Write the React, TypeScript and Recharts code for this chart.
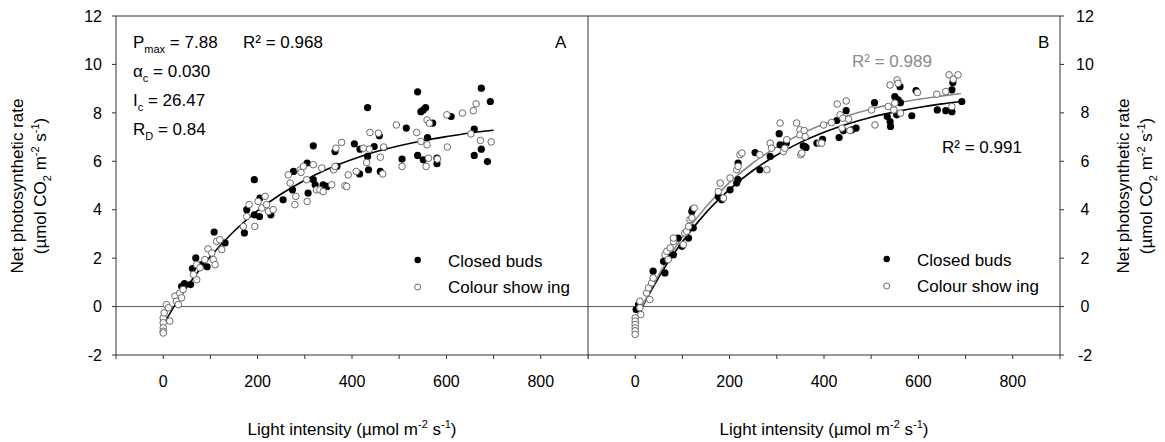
import React from 'react';
import { ComposedChart, Scatter, Line, XAxis, YAxis, ReferenceLine } from 'recharts';

// light intensity (µmol m-2 s-1) vs net photosynthetic rate
const lightTicks = [-100, 0, 100, 200, 300, 400, 500, 600, 700, 800, 900];
const lightLabels = [0, 200, 400, 600, 800];
const rateTicks = [-2, 0, 2, 4, 6, 8, 10, 12];

// panel A
const closedA: [number, number][] = [
  [39, 0.84], [45, 0.95], [58, 0.91], [62, 1.57], [69, 2.01], [81, 1.73], [93, 1.64], [108, 3.08],
  [131, 2.63], [172, 3.04], [177, 4.0], [193, 5.24], [193, 3.79], [204, 3.72], [205, 4.48], [228, 3.79],
  [254, 4.41], [274, 4.82], [276, 5.58], [305, 5.93], [307, 4.69], [318, 5.24], [322, 5.03], [318, 6.64],
  [339, 5.03], [347, 4.96], [364, 6.4], [368, 5.79], [405, 6.72], [416, 5.48], [417, 6.5], [433, 8.22],
  [433, 6.2], [435, 5.65], [447, 6.61], [458, 7.05], [460, 5.58], [467, 6.57], [506, 6.09], [515, 7.37],
  [539, 8.87], [539, 6.24], [546, 8.05], [551, 8.12], [556, 8.22], [551, 6.06], [560, 6.98], [571, 7.58],
  [580, 5.9], [580, 6.13], [610, 7.85], [659, 7.33], [659, 6.24], [674, 9.02], [674, 6.5], [687, 5.99],
  [693, 8.47],
];
const openA: [number, number][] = [
  [0, -0.47], [0, -0.67], [0, -0.88], [0, -1.02], [0, -1.09], [2, -0.26], [7, 0.08], [11, -0.05],
  [14, -0.6], [25, 0.43], [28, 0.22], [32, 0.08], [35, 0.56], [39, 0.36], [42, 0.7], [64, 1.32],
  [71, 1.11], [71, 1.73], [78, 1.6], [88, 1.94], [95, 2.38], [103, 2.21], [106, 1.94], [110, 1.73],
  [113, 2.69], [120, 2.76], [124, 2.35], [170, 3.31], [177, 3.72], [182, 4.21], [194, 3.31], [201, 4.34],
  [209, 4.07], [216, 4.55], [219, 4.21], [223, 3.93], [233, 4.0], [265, 5.44], [269, 5.1], [279, 4.21],
  [281, 4.55], [290, 5.65], [292, 5.54], [297, 5.79], [304, 5.24], [305, 4.34], [318, 5.86], [325, 4.82],
  [332, 4.82], [336, 5.72], [339, 4.75], [357, 5.03], [361, 5.65], [364, 5.79], [366, 6.54], [378, 6.78],
  [385, 4.99], [389, 4.96], [392, 5.44], [409, 5.58], [424, 6.54], [431, 5.95], [437, 6.5], [438, 7.19],
  [456, 7.16], [460, 6.17], [465, 5.48], [467, 6.59], [494, 7.5], [506, 5.79], [537, 7.19], [546, 6.82],
  [557, 5.79], [559, 7.71], [559, 6.68], [562, 6.13], [564, 7.57], [581, 6.09], [601, 7.92], [602, 6.59],
  [634, 7.99], [652, 7.13], [657, 8.09], [663, 8.37], [672, 6.86], [695, 6.8],
];
const fitA: [number, number][] = [
  [0, -0.75], [25, 0.06], [50, 0.8], [75, 1.47], [100, 2.07], [150, 3.11], [200, 3.96], [250, 4.65],
  [300, 5.22], [350, 5.69], [400, 6.07], [450, 6.39], [500, 6.64], [550, 6.85], [600, 7.02], [650, 7.17],
  [700, 7.28],
];

// panel B
const closedB: [number, number][] = [
  [2, -0.12], [7, 0.08], [38, 1.46], [60, 1.87], [63, 1.39], [72, 2.07], [81, 2.14], [91, 2.83],
  [99, 2.49], [113, 2.83], [120, 3.93], [122, 4.03], [123, 3.25], [176, 4.55], [183, 4.41], [201, 4.82],
  [215, 5.1], [218, 5.24], [218, 5.93], [254, 6.36], [264, 5.65], [286, 6.2], [305, 7.14], [307, 6.68],
  [320, 6.75], [356, 6.64], [360, 6.61], [362, 6.57], [385, 6.75], [397, 6.91], [427, 7.68], [432, 6.98],
  [441, 7.27], [447, 8.09], [459, 7.3], [468, 7.37], [507, 8.42], [534, 7.85], [540, 7.64], [541, 7.44],
  [550, 8.67], [554, 7.92], [557, 8.54], [561, 9.08], [562, 8.42], [586, 7.88], [595, 8.92], [640, 8.12],
  [658, 8.09], [671, 8.05], [671, 8.95], [673, 9.25], [692, 8.47],
];
const openB: [number, number][] = [
  [0, -0.47], [0, -0.6], [0, -0.74], [0, -0.88], [0, -1.0], [0, -1.15], [10, 0.22], [10, -0.05],
  [12, -0.33], [24, 0.56], [28, 0.77], [31, 0.29], [35, 0.98], [38, 1.18], [63, 2.14], [67, 2.28],
  [70, 1.94], [74, 2.42], [81, 2.69], [81, 2.83], [102, 2.56], [105, 3.04], [109, 3.11], [113, 3.31],
  [116, 3.59], [120, 3.66], [125, 4.07], [176, 4.75], [180, 5.1], [187, 4.48], [201, 5.31], [215, 5.65],
  [218, 5.79], [222, 6.27], [226, 6.34], [264, 6.27], [279, 5.65], [286, 6.75], [289, 6.54], [307, 7.58],
  [314, 6.4], [317, 6.54], [321, 6.89], [342, 7.58], [349, 7.3], [349, 7.09], [351, 6.27], [353, 6.34],
  [358, 7.27], [360, 7.02], [391, 6.75], [395, 6.75], [399, 7.5], [416, 7.6], [428, 8.36], [434, 7.92],
  [438, 7.37], [440, 7.78], [447, 8.49], [452, 7.74], [455, 7.27], [501, 8.12], [508, 7.5], [536, 8.26],
  [540, 9.15], [548, 8.12], [550, 8.4], [555, 9.36], [557, 9.22], [562, 7.99], [598, 8.84], [639, 8.77],
  [658, 8.88], [665, 9.57], [671, 8.26], [674, 9.39], [684, 9.57],
];
const fitClosedB: [number, number][] = [
  [0, -0.6], [25, 0.35], [50, 1.21], [75, 1.99], [100, 2.68], [150, 3.88], [200, 4.84], [250, 5.63],
  [300, 6.26], [350, 6.78], [400, 7.2], [450, 7.54], [500, 7.82], [550, 8.04], [600, 8.22], [650, 8.37],
  [690, 8.47],
];
const fitOpenB: [number, number][] = [
  [0, -0.6], [25, 0.41], [50, 1.32], [75, 2.14], [100, 2.87], [150, 4.12], [200, 5.13], [250, 5.94],
  [300, 6.59], [350, 7.12], [400, 7.54], [450, 7.88], [500, 8.16], [550, 8.38], [600, 8.56], [650, 8.7],
  [690, 8.8],
];

const FONT = '"Liberation Sans", Arial, Helvetica, sans-serif';
const AXIS = '#333';
const GREY = '#8a8a8a';

const pts = (arr: [number, number][]) => arr.map(([x, y]) => ({ x, y }));

const ClosedDot = (p: any) => <circle cx={p.cx} cy={p.cy} r={3.6} fill="#000" />;
const OpenDot = (p: any) => (
  <circle cx={p.cx} cy={p.cy} r={3.3} fill="#fff" stroke="#6a6a6a" strokeWidth={1} />
);

const XTick = (p: any) => {
  if (!lightLabels.includes(p.payload.value)) return <g />;
  return (
    <text x={p.x} y={381} textAnchor="middle" dominantBaseline="central" fontSize={16} fontFamily={FONT} fill="#000">
      {p.payload.value}
    </text>
  );
};

const RightYTick = (p: any) => (
  <text x={497} y={p.y} textAnchor="middle" dominantBaseline="central" fontSize={16} fontFamily={FONT} fill="#000">
    {p.payload.value}
  </text>
);

const Sub = ({ children }: any) => (
  <span style={{ fontSize: 11, position: 'relative', top: 5 }}>{children}</span>
);
const Sup = ({ children }: any) => (
  <span style={{ fontSize: 11, position: 'relative', top: -7 }}>{children}</span>
);

const txt = (left: number, cy: number, extra: React.CSSProperties = {}): React.CSSProperties => ({
  position: 'absolute',
  left,
  top: cy - 10,
  lineHeight: '20px',
  fontSize: 17,
  fontFamily: FONT,
  whiteSpace: 'nowrap',
  color: '#000',
  ...extra,
});

const vTitle = (cx: number): React.CSSProperties => ({
  position: 'absolute',
  left: cx,
  top: 185.5,
  transform: 'translate(-50%, -50%) rotate(-90deg)',
  fontSize: 17,
  lineHeight: '20px',
  fontFamily: FONT,
  whiteSpace: 'nowrap',
});

const hTitle = (cx: number): React.CSSProperties => ({
  position: 'absolute',
  left: cx,
  top: 430,
  transform: 'translate(-50%, -50%)',
  fontSize: 17,
  lineHeight: '20px',
  fontFamily: FONT,
  whiteSpace: 'nowrap',
});

const xAxisProps = {
  type: 'number' as const,
  dataKey: 'x',
  domain: [-100, 900],
  ticks: lightTicks,
  interval: 0 as const,
  tick: <XTick />,
  tickSize: 4,
  height: 30,
  allowDataOverflow: true,
  axisLine: { stroke: AXIS },
  tickLine: { stroke: AXIS },
};

const LightTitle = () => (
  <>
    Light intensity (µmol m<Sup>-2</Sup> s<Sup>-1</Sup>)
  </>
);

const RateTitle = ({ cx1, cx2 }: { cx1: number; cx2: number }) => (
  <>
    <div style={vTitle(cx1)}>Net photosynthetic rate</div>
    <div style={vTitle(cx2)}>
      (µmol CO<Sub>2</Sub> m<Sup>-2</Sup> s<Sup>-1</Sup>)
    </div>
  </>
);

export default function App() {
  return (
    <div style={{ position: 'relative', width: 1165, height: 442, background: '#fff', overflow: 'hidden' }}>
      <style>{'body{margin:0}'}</style>

      {/* panel A */}
      <div style={{ position: 'absolute', left: 0, top: 0 }}>
        <ComposedChart width={600} height={442} margin={{ top: 16, right: 12, bottom: 57, left: 0 }}>
          <XAxis {...xAxisProps} />
          <YAxis
            type="number"
            domain={[-2, 12]}
            ticks={rateTicks}
            interval={0}
            width={116}
            tickSize={4}
            tickMargin={10}
            allowDataOverflow
            tick={{ fontSize: 16, fill: '#000', fontFamily: FONT }}
            axisLine={{ stroke: AXIS }}
            tickLine={{ stroke: AXIS }}
          />
          <ReferenceLine y={0} stroke="#555" />
          <ReferenceLine y={12} stroke={AXIS} />
          <ReferenceLine x={900} stroke={AXIS} />
          <Scatter data={pts(closedA)} dataKey="y" shape={ClosedDot} isAnimationActive={false} />
          <Scatter data={pts(openA)} dataKey="y" shape={OpenDot} isAnimationActive={false} />
          <Line data={pts(fitA)} dataKey="y" type="monotone" dot={false} stroke="#000" strokeWidth={1.6} isAnimationActive={false} />
        </ComposedChart>
      </div>

      {/* panel B */}
      <div style={{ position: 'absolute', left: 588, top: 0 }}>
        <ComposedChart width={577} height={442} margin={{ top: 16, right: 0, bottom: 57, left: 0 }}>
          <XAxis {...xAxisProps} />
          <YAxis
            type="number"
            orientation="right"
            domain={[-2, 12]}
            ticks={rateTicks}
            interval={0}
            width={105}
            tickSize={4}
            allowDataOverflow
            tick={<RightYTick />}
            axisLine={{ stroke: AXIS }}
            tickLine={{ stroke: AXIS }}
          />
          <ReferenceLine y={0} stroke="#555" />
          <ReferenceLine y={12} stroke={AXIS} />
          <Scatter data={pts(closedB)} dataKey="y" shape={ClosedDot} isAnimationActive={false} />
          <Scatter data={pts(openB)} dataKey="y" shape={OpenDot} isAnimationActive={false} />
          <Line data={pts(fitClosedB)} dataKey="y" type="monotone" dot={false} stroke="#000" strokeWidth={1.6} isAnimationActive={false} />
          <Line data={pts(fitOpenB)} dataKey="y" type="monotone" dot={false} stroke={GREY} strokeWidth={1.6} isAnimationActive={false} />
        </ComposedChart>
      </div>

      {/* legend markers */}
      <svg width={1165} height={442} style={{ position: 'absolute', left: 0, top: 0, pointerEvents: 'none' }}>
        <circle cx={417.7} cy={260} r={3.2} fill="#000" />
        <circle cx={417.7} cy={287} r={3} fill="#fff" stroke="#6a6a6a" />
        <circle cx={886.7} cy={259} r={3.2} fill="#000" />
        <circle cx={886.7} cy={286} r={3} fill="#fff" stroke="#6a6a6a" />
      </svg>

      {/* legends */}
      <div style={txt(448, 262)}>Closed buds</div>
      <div style={txt(448, 288)}>Colour show ing</div>
      <div style={txt(917, 261)}>Closed buds</div>
      <div style={txt(917, 287)}>Colour show ing</div>

      {/* panel A annotations */}
      <div style={txt(133, 43)}>
        P<Sub>max</Sub> = 7.88
      </div>
      <div style={txt(133, 72)}>
        α<Sub>c</Sub> = 0.030
      </div>
      <div style={txt(133, 101)}>
        I<Sub>c</Sub> = 26.47
      </div>
      <div style={txt(133, 130)}>
        R<Sub>D</Sub> = 0.84
      </div>
      <div style={txt(243, 43)}>R² = 0.968</div>
      <div style={txt(555, 43)}>A</div>

      {/* panel B annotations */}
      <div style={txt(1038, 43)}>B</div>
      <div style={txt(852, 62, { color: GREY })}>R² = 0.989</div>
      <div style={txt(942, 148)}>R² = 0.991</div>

      {/* axis titles */}
      <RateTitle cx1={18} cx2={41} />
      <RateTitle cx1={1124} cx2={1147} />
      <div style={hTitle(352)}>
        <LightTitle />
      </div>
      <div style={hTitle(824)}>
        <LightTitle />
      </div>
    </div>
  );
}
